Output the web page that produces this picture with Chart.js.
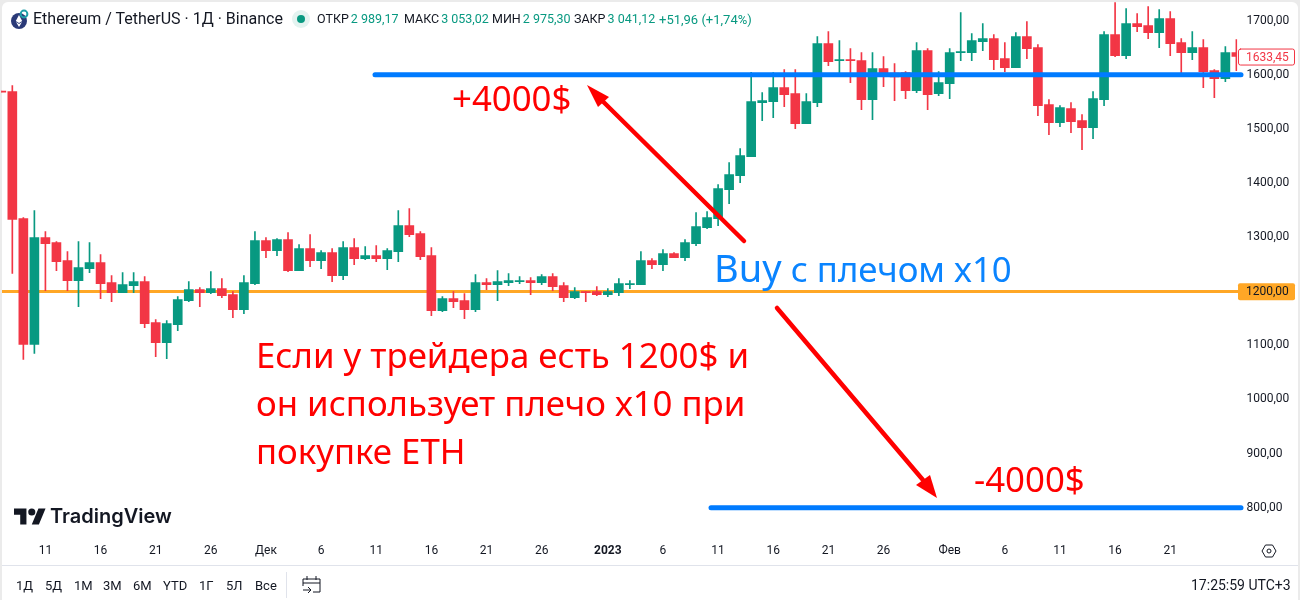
<!DOCTYPE html>
<html>
<head>
<meta charset="utf-8">
<title>ETHUSDT</title>
<script src="https://cdn.jsdelivr.net/npm/chart.js@4/dist/chart.umd.js"></script>
<style>
  html, body { margin: 0; padding: 0; background: #ebebeb; overflow: hidden; }
  #wrap { position: relative; width: 1300px; height: 600px; overflow: hidden; font-family: Roboto, sans-serif; color: #131722; }
  #panel { position: absolute; left: 2px; top: 2px; width: 1296px; height: 598px; background: #fff; border-radius: 6px 6px 0 0; }
  canvas { position: absolute; left: 0; top: 0; }
  .t { position: absolute; white-space: nowrap; line-height: 1; }
  .ohlc { top: 13px; font-size: 12.5px; }
  .ohlc span { color: #089981; margin-left: 2px; }
  .note { font-family: "Noto Sans", sans-serif; color: #ff0000; font-size: 34.8px; }
  .range { font-size: 13px; top: 579px; }
  #sep { position: absolute; left: 2px; right: 2px; top: 565px; height: 1px; background: #e0e3eb; }
  #sep2 { position: absolute; left: 286px; top: 572px; width: 1px; height: 26px; background: #e0e3eb; }
</style>
</head>
<body>
<div id="wrap">
  <div id="panel"></div>
  <canvas id="chart" width="1300" height="600"></canvas>
  <div id="sep"></div>
  <div id="sep2"></div>

  <svg style="position:absolute;left:10px;top:9px" width="20" height="22" viewBox="0 0 20 22">
    <circle cx="9" cy="12" r="8" fill="#2b3a78"/>
    <path d="M9 6l3.2 6L9 14l-3.2-2z" fill="#fff"/>
    <path d="M9 15l3-2-3 5-3-5z" fill="#fff"/>
    <circle cx="14" cy="5" r="3.4" fill="none" stroke="#1f9ea8" stroke-width="2"/>
  </svg>
  <div class="t" style="left:33px;top:11px;font-size:16px">Ethereum / TetherUS · 1Д · Binance</div>
  <svg style="position:absolute;left:292px;top:10px" width="18" height="18">
    <circle cx="9" cy="9" r="9" fill="#e3f3f0"/>
    <circle cx="9" cy="9" r="4" fill="#089981"/>
  </svg>
  <div class="t ohlc" style="left:317px">ОТКР<span>2 989,17</span></div>
  <div class="t ohlc" style="left:404px">МАКС<span>3 053,02</span></div>
  <div class="t ohlc" style="left:492px">МИН<span>2 975,30</span></div>
  <div class="t ohlc" style="left:574px">ЗАКР<span>3 041,12</span></div>
  <div class="t ohlc" style="left:659px;color:#089981;font-size:13px">+51,96 (+1,74%)</div>

  <svg style="position:absolute;left:14px;top:508px" width="32" height="17" viewBox="0 0 36 18">
    <path d="M14 18H7V7H0V0h14v18zM28 18h-8L27.5 0h8L28 18z" fill="#131722"/>
    <circle cx="20" cy="4" r="4" fill="#131722"/>
  </svg>
  <div class="t" style="left:50px;top:506px;font-size:20px;font-weight:600;font-family:Inter,sans-serif">TradingView</div>

  <div class="t note" style="left:452px;top:81px">+4000$</div>
  <div class="t note" style="left:974px;top:462px">-4000$</div>
  <div class="t note" style="left:714px;top:248px;color:#0a84ff"><span style="font-size:38px">Buy</span> с плечом х10</div>
  <div class="t note" style="left:256px;top:338px">Если у трейдера есть 1200$ и</div>
  <div class="t note" style="left:256px;top:386px">он использует плечо х10 при</div>
  <div class="t note" style="left:256px;top:434px">покупке ETH</div>

  <div class="t range" style="left:16px">1Д</div>
  <div class="t range" style="left:45px">5Д</div>
  <div class="t range" style="left:74px">1М</div>
  <div class="t range" style="left:103px">3М</div>
  <div class="t range" style="left:133px">6М</div>
  <div class="t range" style="left:163px">YTD</div>
  <div class="t range" style="left:199px">1Г</div>
  <div class="t range" style="left:226px">5Л</div>
  <div class="t range" style="left:255px">Все</div>
  <svg style="position:absolute;left:302px;top:575px" width="20" height="20" viewBox="0 0 20 20" fill="none" stroke="#131722">
    <path d="M5 1v4M14 1v4M1 4h17v13h-7M1 8h17M1 4v7"/>
    <path d="M1 15h8M6 12l3 3-3 3"/>
  </svg>
  <div class="t" style="left:1191px;top:578px;font-size:14px">17:25:59 UTC+3</div>
  <svg style="position:absolute;left:1261px;top:543px" width="16" height="16" viewBox="0 0 16 16" fill="none" stroke="#131722">
    <path d="M4.5 2h7L15 8l-3.500 6h-7L1 8z"/>
    <circle cx="8" cy="8" r="2"/>
  </svg>
</div>

<script>
// one candle a day, 7 Nov 2022 to 27 Feb 2023
const categories = [
  '7','8','9','10','11','12','13','14','15','16','17','18','19','20','21','22','23','24','25','26','27','28','29','30',
  'Дек','2','3','4','5','6','7','8','9','10','11','12','13','14','15','16','17','18','19','20','21','22','23','24','25','26','27','28','29','30','31',
  '2023','2','3','4','5','6','7','8','9','10','11','12','13','14','15','16','17','18','19','20','21','22','23','24','25','26','27','28','29','30','31',
  'Фев','2','3','4','5','6','7','8','9','10','11','12','13','14','15','16','17','18','19','20','21','22','23','24','25','26','27'
];
const opens = [1569.5,
  1568.6,1334,1101.9,1298.9,1289.7,1256.4,1219.5,1241.7,1252.7,1215.8,
  1197.3,1210.3,1217.6,1141.9,1105,1138.2,1182.6,1202.9,1197.3,1204.7,
  1193.6,1165.9,1214,1293.4,1274.9,1295.2,1238,1278.6,1256.4,1271.2,
  1228.7,1280.5,1260.1,1265.7,1260.1,1273.1,1321.1,1306.3,1265.7,1164.1,
  1186.2,1182.6,1165.9,1215.8,1212.1,1215.8,1217.7,1219.5,1215.8,1226.9,
  1210.3,1188.1,1199.2,1199.2,1193.6,1197.3,1212.1,1212.1,1256.4,1249,
  1269.4,1262,1287.8,1317.4,1334,1387.6,1413.4,1448.5,1548.3,1550.1,
  1576,1564.9,1509.5,1548.3,1657.3,1625.9,1627.7,1625.9,1553.8,1611.1,
  1603.1,1603.7,1570.4,1644.3,1564.9,1583.4,1640.6,1640.6,1660.9,1666.5,
  1629.5,1612.9,1670.2,1649.9,1544.6,1511.3,1537.2,1515,1502.1,1553.8,
  1673.9,1635.1,1694.2,1690.5,1677.6,1703.4,1659.1,1640.6,1649.9,1607.4,
  1592.6,1640.6];
const highs = [1569.5,
  1579.7,1335.9,1348.8,1310,1291.5,1273,1291.5,1289.7,1267.5,1228.7,
  1234.3,1234.3,1226.9,1147.5,1145.6,1189.9,1217.6,1206.6,1236.1,1223.2,
  1199.2,1228.7,1310,1298.9,1297,1308.2,1286,1304.5,1274.9,1278.6,
  1291.5,1297.1,1282.3,1284.2,1278.6,1348.8,1352.5,1310,1280.5,1189.9,
  1199.2,1195.5,1230.6,1223.2,1237.9,1232.4,1226.9,1225,1230.6,1232.4,
  1215.8,1206.6,1199.2,1208.4,1204.7,1223.2,1219.5,1273.1,1260.1,1276.8,
  1271.2,1295.2,1345.1,1347,1396.8,1437.5,1463.3,1604.3,1566.7,1603.7,
  1609.2,1609.2,1564.9,1670.2,1679.4,1662.8,1648,1640.6,1640.6,1633.2,
  1620.3,1605.5,1659.1,1648,1605.5,1648,1714.5,1675.7,1694.2,1673.9,
  1659.1,1677.6,1697.9,1655.4,1553.8,1542.7,1548.3,1526.1,1568.6,1679.4,
  1733,1721.9,1712.7,1725.6,1720,1716.4,1666.5,1679.4,1664.6,1609.2,
  1651.7,1664.6];
const lows = [1567.5,
  1233,1074.2,1085.3,1201,1238,1201,1171.5,1234.3,1186.2,1180.7,
  1197.3,1197.3,1132.7,1079.1,1075.4,1127.1,1180.7,1171.5,1195.5,1188.1,
  1151.2,1158.5,1212.1,1262,1265.7,1236.1,1238,1245.3,1241.7,1217.7,
  1221.3,1249.1,1258.3,1254.6,1239.8,1254.6,1300.8,1258.3,1154.9,1162.2,
  1169.6,1149.3,1162.2,1202.9,1182.6,1210.3,1214,1193.6,1212.1,1201,
  1180.7,1186.2,1180.7,1191.8,1189.9,1191.8,1204.7,1212.1,1241.7,1238,
  1262,1256.4,1284.1,1315.5,1321.1,1361.7,1400.5,1448.5,1515,1520.6,
  1540.9,1500.3,1509.5,1540.9,1616.6,1603.7,1585.2,1535.4,1516.9,1577.8,
  1552,1555.7,1566.7,1535.4,1561.2,1555.7,1625.9,1625.9,1644.3,1609.2,
  1605.5,1612.9,1629.5,1524.3,1489.2,1504,1492.9,1461.5,1481.8,1542.7,
  1633.2,1629.5,1679.4,1666.5,1649.9,1635.1,1603.7,1627.7,1576,1557.5,
  1587.1,1607.4];
const closes = [1567.5,
  1332.8,1101.9,1298.9,1287.8,1254.6,1219.5,1243.5,1252.7,1214,1197.3,
  1212.1,1217.6,1140,1105,1140,1184.4,1202.9,1197.3,1204.7,1191.8,
  1165.9,1215.8,1293.4,1274.9,1295.2,1238,1278.6,1256.4,1271.2,1228.7,
  1280.5,1260.1,1265.7,1260.1,1274.9,1321.1,1304.5,1263.8,1164.1,1186.2,
  1180.7,1165.9,1215.8,1212.1,1217.7,1219.5,1219.5,1215.8,1226.9,1208.4,
  1188.1,1199.2,1197.3,1193.6,1199.2,1214,1214,1256.4,1249,1269.4,
  1262,1289.7,1319.2,1335.9,1389.4,1415.3,1450.4,1550.1,1552,1576,
  1563.1,1509.5,1550.1,1657.3,1624,1627.7,1625.9,1553.8,1611.1,1603.7,
  1595.7,1570.4,1644.3,1563.1,1585.2,1640.6,1642.5,1662.8,1666.5,1627.7,
  1612.9,1670.2,1648,1542.7,1511.3,1539,1513.2,1502.1,1555.7,1673.9,
  1635.1,1694.2,1688.7,1677.6,1703.4,1657.3,1640.6,1649.9,1605.5,1592.6,
  1640.6,1633.45];

// which categories carry a label on the time axis
const xTickIndexes = [4,9,14,19,24,29,34,39,44,49,55,60,65,70,75,80,86,91,96,101,106];
const yTicks = [1700,1600,1500,1400,1300,1100,1000,900,800];

const supportLevel = 1200;
const upperLevel = 1600;
const lowerLevel = 800;
const lastPrice = 1633.45;

const GREEN = '#089981';
const RED = '#F23645';
const fmt = v => v.toFixed(2).replace('.', ',');

function arrow(ctx, x1, y1, x2, y2, c1x, c1y, c2x, c2y) {
  ctx.strokeStyle = '#ff0000';
  ctx.fillStyle = '#ff0000';
  ctx.lineWidth = 4.5;
  ctx.lineCap = 'round';
  ctx.beginPath();
  ctx.moveTo(x1, y1);
  ctx.lineTo((c1x + c2x) / 2, (c1y + c2y) / 2);
  ctx.stroke();
  ctx.beginPath();
  ctx.moveTo(x2, y2);
  ctx.lineTo(c1x, c1y);
  ctx.lineTo(c2x, c2y);
  ctx.closePath();
  ctx.fill();
}

function hline(ctx, y, x1, x2, color, width, cap) {
  ctx.strokeStyle = color;
  ctx.lineWidth = width;
  ctx.lineCap = cap;
  ctx.beginPath();
  ctx.moveTo(x1, y);
  ctx.lineTo(x2, y);
  ctx.stroke();
}

// levels, arrows and price badges sit on top of the library's own axes
const overlay = {
  id: 'overlay',
  beforeDatasetsDraw(chart) {
    const y = chart.scales.y;
    hline(chart.ctx, Math.round(y.getPixelForValue(supportLevel)) + 0.5, 2, 1238, '#FFA726', 3, 'butt');
  },
  afterDraw(chart) {
    const ctx = chart.ctx;
    const y = chart.scales.y;
    ctx.save();
    hline(ctx, y.getPixelForValue(upperLevel), 375, 1241, '#007BFF', 5, 'round');
    hline(ctx, y.getPixelForValue(lowerLevel), 711, 1241, '#007BFF', 5, 'round');
    arrow(ctx, 744, 241, 587, 85, 609, 97, 598, 107);
    arrow(ctx, 777, 308, 937, 498, 916, 485, 930, 475);

    ctx.font = '12px Roboto';
    ctx.textAlign = 'left';
    ctx.textBaseline = 'middle';
    const sy = y.getPixelForValue(supportLevel);
    ctx.fillStyle = '#FFA726';
    ctx.beginPath();
    ctx.roundRect(1238, sy - 8, 57, 17, 2);
    ctx.fill();
    ctx.fillStyle = '#131722';
    ctx.fillText(fmt(supportLevel), 1246, sy + 1);

    const ly = y.getPixelForValue(lastPrice);
    ctx.strokeStyle = RED;
    ctx.lineWidth = 1;
    ctx.beginPath();
    ctx.roundRect(1238.5, ly - 7.5, 56, 16, 2);
    ctx.stroke();
    ctx.fillStyle = RED;
    ctx.fillText(fmt(lastPrice), 1246, ly + 1);
    ctx.restore();
  }
};

const candleColors = categories.map((_, i) => closes[i] >= opens[i] ? GREEN : RED);

new Chart(document.getElementById('chart').getContext('2d'), {
  type: 'bar',
  data: {
    labels: categories,
    datasets: [
      {
        label: 'wick',
        data: categories.map((_, i) => [lows[i], highs[i]]),
        backgroundColor: candleColors,
        barThickness: 1,
        grouped: false,
        clip: { left: 0, top: 0, right: 1, bottom: 0 }
      },
      {
        label: 'body',
        data: categories.map((_, i) => [opens[i], closes[i]]),
        backgroundColor: candleColors,
        barThickness: 9,
        grouped: false
      }
    ]
  },
  options: {
    responsive: false,
    animation: false,
    layout: { padding: { left: 1.3, top: 2, right: 0, bottom: 35 } },
    plugins: { legend: { display: false }, tooltip: { enabled: false } },
    scales: {
      x: {
        type: 'category',
        offset: false,
        grid: { display: false, drawTicks: false },
        border: { display: false },
        afterFit: s => { s.height = 24; s.paddingLeft = 0; s.paddingRight = 0; },
        ticks: {
          autoSkip: false,
          maxRotation: 0,
          padding: 3,
          color: '#131722',
          font: c => ({ family: 'Roboto', size: 12, weight: categories[c.index] === '2023' ? 'bold' : 'normal' }),
          callback: (v, i) => xTickIndexes.includes(i) ? categories[i] : ''
        }
      },
      y: {
        position: 'right',
        min: 738.6,
        max: 1734.2,
        grid: { display: false, drawTicks: false },
        border: { display: false },
        afterFit: s => { s.width = 63.6; s.paddingTop = 0; s.paddingBottom = 0; },
        afterBuildTicks: s => { s.ticks = yTicks.map(v => ({ value: v })); },
        ticks: {
          padding: 10,
          color: '#131722',
          font: { family: 'Roboto', size: 12 },
          callback: v => fmt(v)
        }
      }
    }
  },
  plugins: [overlay]
});
</script>
</body>
</html>
